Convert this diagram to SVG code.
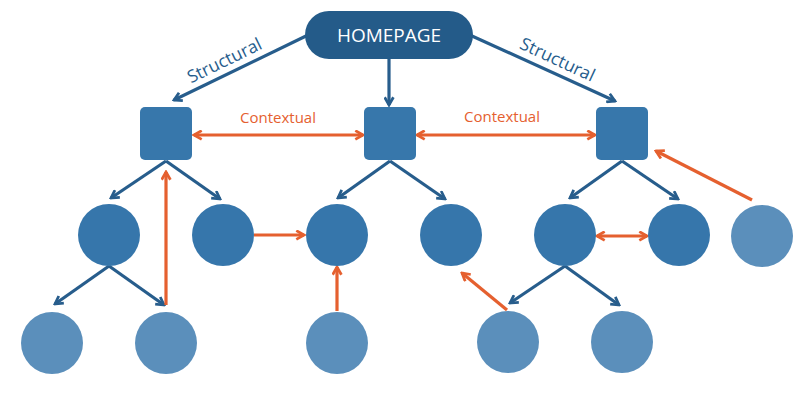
<svg xmlns="http://www.w3.org/2000/svg" width="800" height="400" viewBox="0 0 800 400">
<style>
.blue{stroke:#275d8c;stroke-width:3.2;fill:none}
.or{stroke:#e5602f;stroke-width:3.2;fill:none}
.sq{fill:#3777ab}
.dc{fill:#3676ab}
.lc{fill:#5b8fbb}
.lbl{font-family:"Open Sans","Liberation Sans",sans-serif}
</style>
<defs>
<marker id="ab" viewBox="0 0 10 10" refX="8.5" refY="5" markerWidth="11" markerHeight="11" markerUnits="userSpaceOnUse" orient="auto-start-reverse">
<path d="M1.5,1 L8.5,5 L1.5,9" fill="none" stroke="#275d8c" stroke-width="2.5" stroke-linejoin="miter"/>
</marker>
<marker id="ao" viewBox="0 0 10 10" refX="8.5" refY="5" markerWidth="11" markerHeight="11" markerUnits="userSpaceOnUse" orient="auto-start-reverse">
<path d="M1.5,1 L8.5,5 L1.5,9" fill="none" stroke="#e5602f" stroke-width="2.5" stroke-linejoin="miter"/>
</marker>
</defs>
<rect width="800" height="400" fill="#ffffff"/>
<g id="connectors">
<line class="blue" x1="306" y1="36" x2="174" y2="100" marker-end="url(#ab)"/>
<line class="blue" x1="389" y1="59" x2="389" y2="105" marker-end="url(#ab)"/>
<line class="blue" x1="472" y1="36" x2="615" y2="101" marker-end="url(#ab)"/>
<line class="blue" x1="166" y1="161" x2="111" y2="198" marker-end="url(#ab)"/>
<line class="blue" x1="166" y1="161" x2="220" y2="199" marker-end="url(#ab)"/>
<line class="blue" x1="390" y1="161" x2="338" y2="198" marker-end="url(#ab)"/>
<line class="blue" x1="390" y1="161" x2="445" y2="199" marker-end="url(#ab)"/>
<line class="blue" x1="622" y1="161" x2="570" y2="198" marker-end="url(#ab)"/>
<line class="blue" x1="622" y1="161" x2="678" y2="199" marker-end="url(#ab)"/>
<line class="blue" x1="109" y1="266" x2="55" y2="304" marker-end="url(#ab)"/>
<line class="blue" x1="109" y1="266" x2="164" y2="305" marker-end="url(#ab)"/>
<line class="blue" x1="565" y1="266" x2="510" y2="303" marker-end="url(#ab)"/>
<line class="blue" x1="565" y1="266" x2="619" y2="305" marker-end="url(#ab)"/>
<line class="or" x1="194" y1="135" x2="363" y2="135" marker-start="url(#ao)" marker-end="url(#ao)"/>
<line class="or" x1="417" y1="135" x2="595" y2="135" marker-start="url(#ao)" marker-end="url(#ao)"/>
<line class="or" x1="166" y1="305" x2="166" y2="172" marker-end="url(#ao)"/>
<line class="or" x1="254" y1="235" x2="304" y2="235" marker-end="url(#ao)"/>
<line class="or" x1="337" y1="311" x2="337" y2="267" marker-end="url(#ao)"/>
<line class="or" x1="507" y1="310" x2="462" y2="273" marker-end="url(#ao)"/>
<line class="or" x1="597" y1="236" x2="647" y2="236" marker-start="url(#ao)" marker-end="url(#ao)"/>
<line class="or" x1="752" y1="200" x2="656" y2="151" marker-end="url(#ao)"/>
<text class="lbl" x="227" y="66" font-size="17.5" fill="#275d8c" text-anchor="middle" transform="rotate(-26 227 66)">Structural</text>
<text class="lbl" x="555" y="65" font-size="17.5" fill="#275d8c" text-anchor="middle" transform="rotate(25 555 65)">Structural</text>
<text class="lbl" x="278" y="123" font-size="15" fill="#e5602f" text-anchor="middle">Contextual</text>
<text class="lbl" x="502" y="122" font-size="15" fill="#e5602f" text-anchor="middle">Contextual</text>
</g>
<g id="homepage">
<rect x="305" y="11" width="168" height="48" rx="24" fill="#245b89"/>
<text class="lbl" x="389" y="42" font-size="19" fill="#ffffff" text-anchor="middle">HOMEPAGE</text>
</g>
<g id="sq1"><rect class="sq" x="140" y="107" width="52" height="53" rx="5"/></g>
<g id="sq2"><rect class="sq" x="364" y="107" width="52" height="53" rx="5"/></g>
<g id="sq3"><rect class="sq" x="596" y="107" width="52" height="53" rx="5"/></g>
<g id="c1"><circle class="dc" cx="109" cy="235" r="31"/></g>
<g id="c2"><circle class="dc" cx="223" cy="235" r="31"/></g>
<g id="c3"><circle class="dc" cx="337" cy="235" r="31"/></g>
<g id="c4"><circle class="dc" cx="451" cy="235" r="31"/></g>
<g id="c5"><circle class="dc" cx="565" cy="235" r="31"/></g>
<g id="c6"><circle class="dc" cx="679" cy="235" r="31"/></g>
<g id="c7"><circle class="lc" cx="762" cy="236" r="31"/></g>
<g id="b1"><circle class="lc" cx="52" cy="343" r="31"/></g>
<g id="b2"><circle class="lc" cx="166" cy="343" r="31"/></g>
<g id="b3"><circle class="lc" cx="337" cy="343" r="31"/></g>
<g id="b4"><circle class="lc" cx="508" cy="342" r="31"/></g>
<g id="b5"><circle class="lc" cx="622" cy="342" r="31"/></g>
</svg>
